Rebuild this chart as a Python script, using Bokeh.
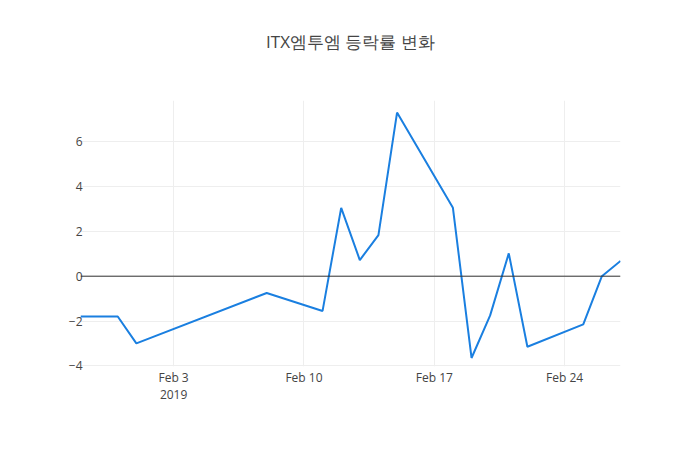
from datetime import datetime
from bokeh.plotting import figure
from bokeh.models import ColumnDataSource, Span, FixedTicker, Range1d, Title
from bokeh.embed import file_html
from bokeh.resources import INLINE

title_text = "ITX엠투엠 등락률 변화"
dates = ["2019-01-29", "2019-01-30", "2019-01-31", "2019-02-01", "2019-02-08",
         "2019-02-11", "2019-02-12", "2019-02-13", "2019-02-14", "2019-02-15",
         "2019-02-18", "2019-02-19", "2019-02-20", "2019-02-21", "2019-02-22",
         "2019-02-25", "2019-02-26", "2019-02-27"]
rates = [-1.8, -1.8, -1.8, -3.0, -0.75,
         -1.55, 3.05, 0.72, 1.83, 7.3,
         3.05, -3.65, -1.75, 1.02, -3.15,
         -2.15, 0.0, 0.68]
x_tick_dates = ["2019-02-03", "2019-02-10", "2019-02-17", "2019-02-24"]
x_tick_labels = ["Feb 3\n2019", "Feb 10", "Feb 17", "Feb 24"]
y_ticks = [-4, -2, 0, 2, 4, 6]

def ms(s):
    return datetime.strptime(s, "%Y-%m-%d").timestamp() * 1000.0

xs = [datetime.strptime(d, "%Y-%m-%d") for d in dates]
src = ColumnDataSource(dict(x=xs, y=rates))

FONT = "Open Sans"
TXT = "#444444"

p = figure(width=684, height=434, x_axis_type="datetime",
           output_backend="svg", toolbar_location=None,
           x_range=Range1d(ms(dates[0]), ms(dates[-1])),
           y_range=Range1d(-4.03, 7.84),
           min_border_left=80, min_border_right=64,
           min_border_top=100, min_border_bottom=68)
p.outline_line_color = None
p.background_fill_color = "white"
p.border_fill_color = "white"

# spacer panel between the frame and the title
p.add_layout(Title(text=" ", text_font_size="12px", standoff=22), "above")

p.title.text = title_text
p.title.align = "center"
p.title.text_font = FONT
p.title.text_font_size = "17px"
p.title.text_font_style = "normal"
p.title.text_color = TXT
p.title.standoff = 20

tick_ms = [ms(d) for d in x_tick_dates]
p.xaxis.ticker = FixedTicker(ticks=tick_ms)
p.xaxis.major_label_overrides = {t: l for t, l in zip(tick_ms, x_tick_labels)}
p.yaxis.ticker = FixedTicker(ticks=y_ticks)
p.yaxis.major_label_overrides = {v: ("\u2212" + str(abs(v)) if v < 0 else str(v)) for v in y_ticks}

for ax in (p.xaxis, p.yaxis):
    ax.axis_line_color = None
    ax.major_tick_line_color = None
    ax.minor_tick_line_color = None
    ax.major_tick_out = 0
    ax.major_tick_in = 0
    ax.major_label_text_font = FONT
    ax.major_label_text_font_size = "12px"
    ax.major_label_text_color = TXT
p.xaxis.major_label_standoff = 2
p.xaxis.major_label_text_line_height = 1.0
p.yaxis.major_label_standoff = -2

p.xgrid.grid_line_color = "#eeeeee"
p.ygrid.grid_line_color = "#eeeeee"

p.add_layout(Span(location=0, dimension="width", line_color="#333333", line_width=1))

p.line("x", "y", source=src, line_color="#1a7fe0", line_width=2)

open("out.html", "w").write(file_html(p, INLINE))
